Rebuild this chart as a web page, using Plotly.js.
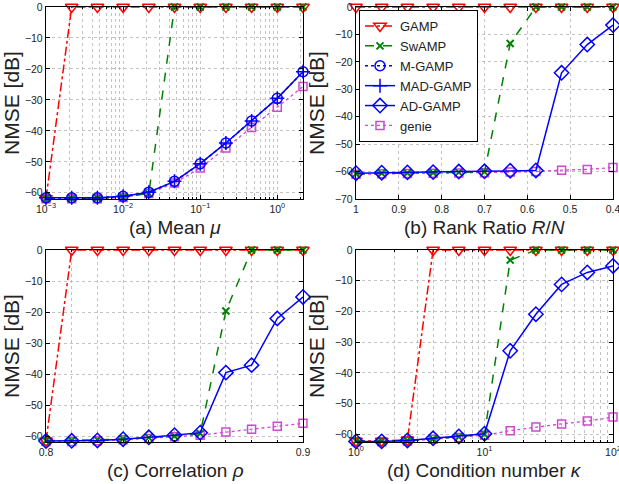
<!DOCTYPE html>
<html>
<head>
<meta charset="utf-8">
<script src="https://cdn.plot.ly/plotly-3.0.1.min.js"></script>
<style>html,body{margin:0;padding:0;background:#fff;}#chart{width:619px;height:484px;}</style>
</head>
<body>
<div id="chart"></div>
<script>
// ---- data ----
var seriesNames = ["GAMP", "SwAMP", "M-GAMP", "MAD-GAMP", "AD-GAMP", "genie"];

// (a) Mean mu
var xMean = [0.001, 0.002154, 0.004642, 0.01, 0.02154, 0.04642, 0.1, 0.2154, 0.4642, 1, 2.154];
var aGamp    = [-61.8, 0, 0, 0, 0, 0, 0, 0, 0, 0, 0];
var aSwamp   = [-61.8, -61.8, -61.7, -61.4, -60.2, 0, 0, 0, 0, 0, 0];
var aMGamp   = [-61.6, -61.6, -61.6, -61.1, -59.8, -56.3, -50.6, -43.9, -36.8, -29.5, -20.9];
var aMadGamp = [-61.6, -61.6, -61.6, -61.1, -59.8, -56.3, -50.6, -43.9, -36.8, -29.5, -20.9];
var aGenie   = [-61.9, -61.9, -61.9, -61.5, -60.2, -56.8, -52.0, -45.5, -38.9, -32.4, -25.7];

// (b) Rank ratio R/N
var xRank = [1, 0.94, 0.88, 0.82, 0.76, 0.70, 0.64, 0.58, 0.52, 0.46, 0.40];
var bGamp   = [0, 0, 0, 0, 0, 0, 0, 0, 0, 0, 0];
var bSwamp  = [-60.8, -60.6, -60.5, -60.4, -60.3, -60.1, -13.3, 0, 0, 0, 0];
var bAdGamp = [-60.6, -60.4, -60.3, -60.2, -60.0, -59.9, -59.7, -59.6, -24.0, -13.7, -6.6];
var bGenie  = [-61.0, -60.8, -60.7, -60.6, -60.5, -60.4, -60.2, -60.0, -59.5, -59.2, -58.5];

// (c) Correlation rho
var xCorr = [0.80, 0.81, 0.82, 0.83, 0.84, 0.85, 0.86, 0.87, 0.88, 0.89, 0.90];
var cGamp   = [-61.3, 0, 0, 0, 0, 0, 0, 0, 0, 0, 0];
var cSwamp  = [-61.3, -61.2, -61.0, -60.7, -60.3, -59.8, -59.0, -19.6, 0, 0, 0];
var cAdGamp = [-61.4, -61.3, -61.2, -60.8, -60.2, -59.5, -58.7, -39.4, -37.0, -22.0, -15.1];
var cGenie  = [-61.5, -61.5, -61.3, -61.0, -60.6, -60.0, -59.5, -58.5, -57.6, -56.6, -55.7];

// (d) Condition number kappa
var xCond = [1, 1.585, 2.512, 3.981, 6.310, 10, 15.85, 25.12, 39.81, 63.10, 100];
var dGamp   = [-62.2, -62.2, -61.8, 0, 0, 0, 0, 0, 0, 0, 0];
var dSwamp  = [-62.2, -62.2, -62.0, -61.5, -60.8, -60.0, -3.3, 0, 0, 0, 0];
var dAdGamp = [-62.3, -62.3, -62.0, -61.3, -60.7, -59.8, -32.8, -20.9, -11.2, -7.3, -5.2];
var dGenie  = [-62.4, -62.4, -62.2, -61.6, -61.0, -60.3, -58.8, -57.6, -56.6, -55.7, -54.4];

var yTicks = [-70, -60, -50, -40, -30, -20, -10, 0];
var yTickText = ["\u221270", "\u221260", "\u221250", "\u221240", "\u221230", "\u221220", "\u221210", "0"];
var rankTicks = [1, 0.9, 0.8, 0.7, 0.6, 0.5, 0.4];
var rankTickText = ["1", "0.9", "0.8", "0.7", "0.6", "0.5", "0.4"];

// ---- styles ----
var RED = "#ff0000", GREEN = "#008000", BLUE = "#0000ff", MAG = "#d048d0";
var styles = {
  "GAMP":     {line: {color: RED, dash: "dashdot", width: 1.5}, marker: {symbol: "triangle-down-open", size: 11, color: RED, line: {width: 1.5}}, rank: 1},
  "SwAMP":    {line: {color: GREEN, dash: "dash", width: 1.5}, marker: {symbol: "x-thin-open", size: 7, color: GREEN, line: {width: 2, color: GREEN}}, rank: 2},
  "M-GAMP":   {line: {color: BLUE, dash: "dot", width: 1.5}, marker: {symbol: "circle-open", size: 10, color: BLUE, line: {width: 1.5}}, rank: 3},
  "MAD-GAMP": {line: {color: BLUE, dash: "solid", width: 1.5}, marker: {symbol: "cross-thin-open", size: 10, color: BLUE, line: {width: 1.5, color: BLUE}}, rank: 4},
  "AD-GAMP":  {line: {color: BLUE, dash: "solid", width: 1.5}, marker: {symbol: "diamond-open", size: 11, color: BLUE, line: {width: 1.5}}, rank: 5},
  "genie":    {line: {color: MAG, dash: "dot", width: 1.3}, marker: {symbol: "square-open", size: 8, color: MAG, line: {width: 1.5}}, rank: 6}
};

function tr(name, x, y, xa, ya, showLegend) {
  var s = styles[name];
  return {
    type: "scatter", mode: "lines+markers", name: name, x: x, y: y,
    xaxis: xa, yaxis: ya, line: s.line, marker: s.marker,
    showlegend: showLegend, legendrank: s.rank, cliponaxis: false
  };
}

var data = [
  // (a)
  tr("genie", xMean, aGenie, "x", "y", false),
  tr("GAMP", xMean, aGamp, "x", "y", false),
  tr("SwAMP", xMean, aSwamp, "x", "y", false),
  tr("M-GAMP", xMean, aMGamp, "x", "y", true),
  tr("MAD-GAMP", xMean, aMadGamp, "x", "y", true),
  // (b)
  tr("genie", xRank, bGenie, "x2", "y2", true),
  tr("GAMP", xRank, bGamp, "x2", "y2", true),
  tr("SwAMP", xRank, bSwamp, "x2", "y2", true),
  tr("AD-GAMP", xRank, bAdGamp, "x2", "y2", true),
  // (c)
  tr("genie", xCorr, cGenie, "x3", "y3", false),
  tr("GAMP", xCorr, cGamp, "x3", "y3", false),
  tr("SwAMP", xCorr, cSwamp, "x3", "y3", false),
  tr("AD-GAMP", xCorr, cAdGamp, "x3", "y3", false),
  // (d)
  tr("genie", xCond, dGenie, "x4", "y4", false),
  tr("GAMP", xCond, dGamp, "x4", "y4", false),
  tr("SwAMP", xCond, dSwamp, "x4", "y4", false),
  tr("AD-GAMP", xCond, dAdGamp, "x4", "y4", false)
];

var W = 619, H = 484;
function dx(a, b) { return [a / W, b / W]; }
function dy(top, bottom) { return [1 - bottom / H, 1 - top / H]; }

var TXT = "#222222";
var GRID = "#b4b4b4";
var FONT = "Liberation Sans, Arial, sans-serif";
function baseAxis(extra) {
  var ax = {
    showline: true, linecolor: "#000", linewidth: 1.2, mirror: "ticks",
    ticks: "inside", ticklen: 4, tickcolor: "#000",
    showgrid: true, gridcolor: GRID, griddash: "dot", gridwidth: 0.8,
    zeroline: false, tickfont: {family: FONT, size: 10.5, color: TXT},
    ticklabeloverflow: "allow", fixedrange: true
  };
  for (var k in extra) ax[k] = extra[k];
  return ax;
}
function minorGrid(vals) {
  return {tickmode: "array", tickvals: vals, ticks: "inside", ticklen: 2, tickcolor: "#000",
          showgrid: true, gridcolor: GRID, griddash: "dot", gridwidth: 0.8};
}
function yAxis(domain, anchor, rng) {
  return baseAxis({
    domain: domain, anchor: anchor, range: rng,
    tickmode: "array", tickvals: yTicks, ticktext: yTickText,
    title: {text: "NMSE [dB]", standoff: 4, font: {family: FONT, size: 21, color: TXT}}
  });
}
function minorLog(decadesFrom, decadesTo) {
  var v = [];
  for (var d = decadesFrom; d <= decadesTo; d++) {
    for (var m = 2; m <= 9; m++) v.push(m * Math.pow(10, d));
  }
  return v;
}

var layout = {
  width: W, height: H,
  margin: {l: 0, r: 0, t: 0, b: 0},
  paper_bgcolor: "#fff", plot_bgcolor: "#fff",
  font: {family: FONT, color: TXT},
  xaxis: baseAxis({
    domain: dx(46, 303), anchor: "y", type: "log", range: [-3.0001, 0.3334],
    tickmode: "array", tickvals: [0.001, 0.01, 0.1, 1],
    ticktext: ["10<sup>\u22123</sup>", "10<sup>\u22122</sup>", "10<sup>\u22121</sup>", "10<sup>0</sup>"],
    minor: minorGrid(minorLog(-3, 0))
  }),
  yaxis: yAxis(dy(7, 199), "x", [-62, 0]),
  xaxis2: baseAxis({
    domain: dx(356, 613), anchor: "y2", range: [1.0001, 0.3999],
    tickmode: "array", tickvals: rankTicks, ticktext: rankTickText
  }),
  yaxis2: yAxis(dy(7, 199), "x2", [-70, 0]),
  xaxis3: baseAxis({
    domain: dx(46, 303), anchor: "y3", range: [0.79999, 0.90001],
    tickmode: "array", tickvals: [0.8, 0.9], ticktext: ["0.8", "0.9"],
    minor: minorGrid(xCorr.slice(1, 10))
  }),
  yaxis3: yAxis(dy(250, 442), "x3", [-61.7, 0]),
  xaxis4: baseAxis({
    domain: dx(356, 613), anchor: "y4", type: "log", range: [-0.0001, 2.0001],
    tickmode: "array", tickvals: [1, 10, 100],
    ticktext: ["10<sup>0</sup>", "10<sup>1</sup>", "10<sup>2</sup>"],
    minor: minorGrid(minorLog(0, 1))
  }),
  yaxis4: yAxis(dy(250, 442), "x4", [-62.5, 0]),
  legend: {
    x: 359 / W, y: 1 - 10 / H, xanchor: "left", yanchor: "top",
    bgcolor: "#fff", bordercolor: "#000", borderwidth: 1,
    font: {family: FONT, size: 13, color: TXT},
    tracegroupgap: 0, itemwidth: 30
  },
  annotations: [
    {text: "(a) Mean <i>\u03bc</i>", x: 175 / W, y: 1 - 227 / H},
    {text: "(b) Rank Ratio <i>R</i>/<i>N</i>", x: 484 / W, y: 1 - 227 / H},
    {text: "(c) Correlation <i>\u03c1</i>", x: 175 / W, y: 1 - 470 / H},
    {text: "(d) Condition number <i>\u03ba</i>", x: 484 / W, y: 1 - 470 / H}
  ].map(function (a) {
    a.xref = "paper"; a.yref = "paper"; a.showarrow = false;
    a.xanchor = "center"; a.yanchor = "middle";
    a.font = {family: FONT, size: 19, color: TXT};
    return a;
  })
};

Plotly.newPlot("chart", data, layout, {staticPlot: true, displayModeBar: false});
</script>
</body>
</html>
